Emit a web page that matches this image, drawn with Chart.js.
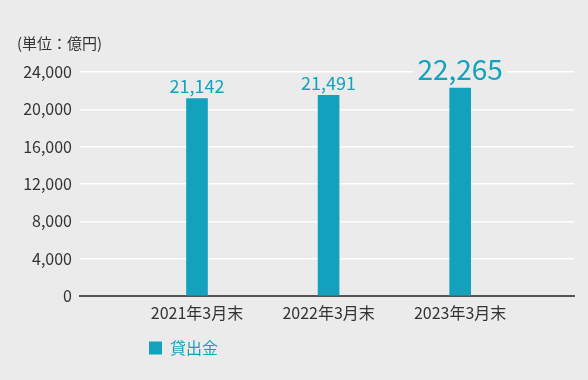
<!DOCTYPE html>
<html>
<head>
<meta charset="utf-8">
<script src="https://cdn.jsdelivr.net/npm/chart.js@4/dist/chart.umd.min.js"></script>
<style>
  html, body { margin: 0; padding: 0; background: #ebebeb; }
  #wrap { width: 588px; height: 380px; position: relative; }
</style>
</head>
<body>
<div id="wrap"><canvas id="c" width="588" height="380"></canvas></div>
<script>
// ---- data ----
const categories = ['2021年3月末', '2022年3月末', '2023年3月末'];
const loanValues = [21142, 21491, 22265];
const seriesName = '貸出金';
const yTicks = [0, 4000, 8000, 12000, 16000, 20000, 24000];
const unitLabel = '(単位：億円)';

const TEAL = '#13a2bd';
const TEXT = '#333333';
const BG = '#ebebeb';
const FONT = "'Noto Sans CJK JP', 'Noto Sans', sans-serif";

const titlePlugin = {
  id: 'unitTitle',
  afterDraw(chart) {
    const ctx = chart.ctx;
    ctx.save();
    ctx.font = '15px ' + FONT;
    ctx.fillStyle = TEXT;
    ctx.textAlign = 'left';
    ctx.textBaseline = 'middle';
    ctx.fillText(unitLabel, 17, 43);
    ctx.restore();
  }
};

const valueLabels = {
  id: 'valueLabels',
  afterDatasetsDraw(chart) {
    const ctx = chart.ctx;
    const meta = chart.getDatasetMeta(0);
    ctx.save();
    meta.data.forEach((bar, i) => {
      const last = i === meta.data.length - 1;
      const size = last ? 28 : 18;
      ctx.font = size + 'px ' + FONT;
      const txt = loanValues[i].toLocaleString('en-US');
      const w = ctx.measureText(txt).width;
      const yb = bar.y - (last ? 5 : 4);
      if (last) {
        ctx.fillStyle = BG;
        ctx.fillRect(bar.x - w / 2 - 4, yb - size - 2, w + 8, size + 4);
      }
      ctx.fillStyle = TEAL;
      ctx.textAlign = 'center';
      ctx.textBaseline = 'alphabetic';
      ctx.fillText(txt, bar.x, yb - size * 0.1);
    });
    ctx.restore();
  }
};

const legendShift = {
  id: 'legendShift',
  afterLayout(chart) {
    if (chart.legend) {
      const w = chart.legend.right - chart.legend.left;
      chart.legend.left = 139;
      chart.legend.right = 139 + w;
    }
  }
};

new Chart(document.getElementById('c'), {
  type: 'bar',
  data: {
    datasets: [{
      label: seriesName,
      data: loanValues.map((v, i) => ({ x: i + 1, y: v })),
      backgroundColor: TEAL,
      borderWidth: 0,
      barThickness: 21
    }]
  },
  options: {
    responsive: false,
    animation: false,
    layout: { padding: { top: 72, left: 0, right: 14, bottom: 14 } },
    plugins: {
      title: { display: false },
      tooltip: { enabled: false },
      legend: {
        display: true,
        position: 'bottom',
        align: 'start',
        labels: {
          color: TEAL,
          boxWidth: 13,
          boxHeight: 13,
          padding: 10,
          font: { family: FONT, size: 16 }
        }
      }
    },
    scales: {
      x: {
        type: 'linear',
        offset: false,
        min: 0.111,
        max: 3.865,
        afterBuildTicks(scale) {
          scale.ticks = categories.map((c, i) => ({ value: i + 1 }));
        },
        afterFit(scale) { scale.height = 34; },
        grid: { display: false, drawTicks: false, offset: false },
        border: { display: true, color: '#555555', width: 2 },
        ticks: {
          color: TEXT,
          padding: 7,
          maxRotation: 0,
          autoSkip: false,
          font: { family: FONT, size: 16 },
          callback: (v) => categories[Math.round(v) - 1] || ''
        }
      },
      y: {
        min: 0,
        max: 24000,
        afterBuildTicks(scale) {
          scale.ticks = yTicks.map(v => ({ value: v }));
        },
        afterFit(scale) { scale.width = 80; },
        grid: { color: '#ffffff', lineWidth: 1.5, drawTicks: false },
        border: { display: false },
        ticks: {
          color: TEXT,
          padding: 8,
          font: { family: FONT, size: 16 },
          callback: (v) => Number(v).toLocaleString('en-US')
        }
      }
    }
  },
  plugins: [titlePlugin, valueLabels, legendShift]
});
</script>
</body>
</html>
